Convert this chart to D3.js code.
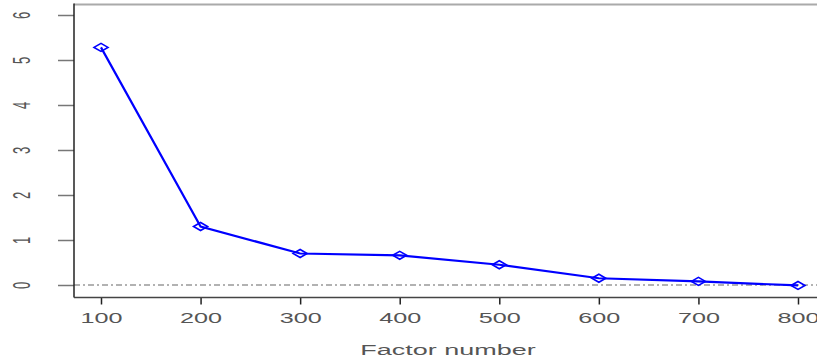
<!DOCTYPE html>
<html>
<head>
<meta charset="utf-8">
<script src="https://cdn.jsdelivr.net/npm/d3@7"></script>
<style>
  html, body { margin: 0; padding: 0; background: #fff; }
  svg { display: block; }
  text { font-family: "Liberation Sans", Arial, sans-serif; }
</style>
</head>
<body>
<div id="chart"></div>
<script>
const factors = [100, 200, 300, 400, 500, 600, 700, 800];
const values = [5.28, 1.30, 0.70, 0.66, 0.45, 0.15, 0.08, -0.01];
const xTicks = [100, 200, 300, 400, 500, 600, 700, 800];
const yTicks = [0, 1, 2, 3, 4, 5, 6];
const xTitle = "Factor number";

(function () {
const W = 817, H = 362;
const stretch = 1.8;
const svg = d3.select("#chart").append("svg").attr("width", W).attr("height", H);

const x = d3.scaleLinear().domain([100, 800]).range([101, 798]);
const y = d3.scaleLinear().domain([0, 6]).range([285, 15]);
const pLeft = 74, pTop = 4.5, pBottom = 297.5, pRight = 840;

// box top (gray)
svg.append("line").attr("x1", pLeft).attr("x2", pRight).attr("y1", pTop).attr("y2", pTop)
  .attr("stroke", "#aaa").attr("stroke-width", 2);

// horizontal reference line at 0
svg.append("line").attr("x1", pLeft).attr("x2", W).attr("y1", y(0)).attr("y2", y(0))
  .attr("stroke", "#999").attr("stroke-width", 1.5).attr("stroke-dasharray", "6,3,2,3");

// y axis
const yAxis = d3.axisLeft(y).tickValues(yTicks).tickSize(16).tickFormat(d3.format("d"));
const gy = svg.append("g").attr("transform", `translate(${pLeft},0)`).call(yAxis);
gy.select(".domain").remove();
gy.selectAll(".tick line").attr("stroke", "#777").attr("stroke-width", 1.5);
gy.selectAll(".tick text").remove();
gy.selectAll(".tick").append("g")
  .attr("transform", `translate(${22 - pLeft},0) scale(${stretch},1)`)
  .append("text")
  .attr("transform", "rotate(-90)")
  .attr("text-anchor", "middle")
  .attr("dy", "0.35em")
  .attr("font-size", 13)
  .attr("fill", "#555")
  .text(d => d);
svg.append("line").attr("x1", pLeft).attr("x2", pLeft).attr("y1", pTop - 1).attr("y2", pBottom)
  .attr("stroke", "#222").attr("stroke-width", 1.5);

// x axis
const xAxis = d3.axisBottom(x).tickValues(xTicks).tickSize(7).tickFormat(d3.format("d"));
const gx = svg.append("g").attr("transform", `translate(0,${pBottom})`).call(xAxis);
gx.select(".domain").remove();
gx.selectAll(".tick line").attr("stroke", "#222").attr("stroke-width", 1.5);
gx.selectAll(".tick text").remove();
gx.selectAll(".tick").append("g")
  .attr("transform", `translate(0,25) scale(${stretch},1)`)
  .append("text")
  .attr("text-anchor", "middle")
  .attr("font-size", 14)
  .attr("fill", "#555")
  .text(d => d);
svg.append("line").attr("x1", pLeft).attr("x2", pRight).attr("y1", pBottom).attr("y2", pBottom)
  .attr("stroke", "#444").attr("stroke-width", 1.5);

// x title
svg.append("g").attr("transform", `translate(448,355) scale(${stretch},1)`)
  .append("text").attr("text-anchor", "middle").attr("font-size", 15).attr("fill", "#555")
  .text(xTitle);

// line
const data = factors.map((f, i) => ({ f, v: values[i] }));
svg.append("path").datum(data)
  .attr("fill", "none").attr("stroke", "#0000ff").attr("stroke-width", 2.2)
  .attr("d", d3.line().x(d => x(d.f)).y(d => y(d.v)));

// diamond markers
svg.selectAll(".mk").data(data).enter().append("path")
  .attr("class", "mk")
  .attr("transform", d => `translate(${x(d.f)},${y(d.v)})`)
  .attr("d", "M-7,0 L0,-4 L7,0 L0,4 Z")
  .attr("fill", "none").attr("stroke", "#0000ff").attr("stroke-width", 1.6);
})();
</script>
</body>
</html>
